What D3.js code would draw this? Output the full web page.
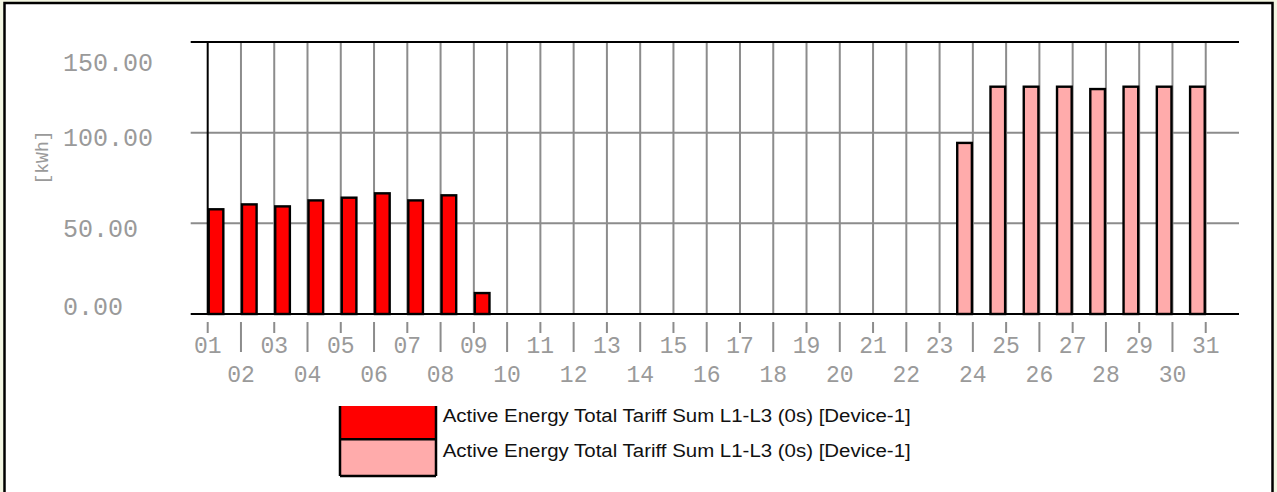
<!DOCTYPE html>
<html>
<head>
<meta charset="utf-8">
<script src="https://cdn.jsdelivr.net/npm/d3@7"></script>
<style>
  body { margin: 0; background: #f3f6e2; }
  svg { display: block; }
</style>
</head>
<body>
<div id="chart"></div>
<script>
// days of the month and the two series (kWh), null = no bar
const days = d3.range(1, 32);
const currentMonth = [58.3, 61.0, 59.9, 63.2, 64.7, 67.1, 63.2, 66.0, 12.1,
  null, null, null, null, null, null, null, null, null, null, null,
  null, null, null, null, null, null, null, null, null, null, null];
const previousMonth = [null, null, null, null, null, null, null, null, null, null,
  null, null, null, null, null, null, null, null, null, null, null, null, null,
  94.9, 125.9, 125.9, 125.9, 124.6, 125.9, 125.9, 125.9];
const yTicks = [0, 50, 100, 150];
const seriesNames = ["Active Energy Total Tariff Sum L1-L3 (0s) [Device-1]",
  "Active Energy Total Tariff Sum L1-L3 (0s) [Device-1]"];
const yTitle = "[kWh]";

const W = 1277, H = 492,
  plotLeft = 207.7, plotRight = 1239, plotTop = 42, plotBottom = 314,
  gridColor = "#8c8c8c",
  labelColor = "#9a9a9a",
  redColor = "#ff0000",
  pinkColor = "#ffabab",
  mono = "'Liberation Mono', 'Courier New', monospace";

const svg = d3.select("#chart").append("svg")
  .attr("width", W).attr("height", H);

// white panel with black frame
svg.append("rect")
  .attr("x", 4.5).attr("y", 3).attr("width", 1268).attr("height", 520)
  .attr("fill", "#fff").attr("stroke", "#000").attr("stroke-width", 2.5);

const x = d3.scaleLinear().domain([1, 32]).range([plotLeft, plotRight]);
const y = d3.scaleLinear().domain([0, 150]).range([plotBottom, plotTop]);
const step = x(2) - x(1);
const barW = step / 2;

// vertical grid
svg.append("g").selectAll("line")
  .data(days.slice(1))
  .enter().append("line")
  .attr("x1", d => x(d)).attr("x2", d => x(d))
  .attr("y1", plotTop).attr("y2", plotBottom)
  .attr("stroke", gridColor).attr("stroke-width", 2);

// horizontal grid (ticks stick out to the left)
svg.append("g").selectAll("line")
  .data(yTicks)
  .enter().append("line")
  .attr("x1", plotLeft - 17).attr("x2", plotRight)
  .attr("y1", d => y(d)).attr("y2", d => y(d))
  .attr("stroke", d => (d === 150 || d === 0) ? "#000" : gridColor)
  .attr("stroke-width", 2);

// left axis
svg.append("line")
  .attr("x1", plotLeft).attr("x2", plotLeft).attr("y1", plotTop).attr("y2", plotBottom)
  .attr("stroke", "#000").attr("stroke-width", 2);

// y labels, kept inside the label band
svg.append("g").selectAll("text")
  .data(yTicks)
  .enter().append("text")
  .attr("x", 63)
  .attr("y", d => Math.max(62, Math.min(306, y(d) + 5)))
  .attr("dy", "0.35em")
  .attr("font-family", mono).attr("font-size", 25)
  .attr("fill", labelColor)
  .text(d => d3.format(".2f")(d));

svg.append("text")
  .attr("transform", "translate(41.5,157.5) rotate(-90)")
  .attr("text-anchor", "middle").attr("dy", "0.35em")
  .attr("font-family", mono).attr("font-size", 18)
  .attr("fill", labelColor)
  .text(yTitle);

// x ticks + staggered labels
const xt = svg.append("g");
xt.selectAll("line")
  .data(days)
  .enter().append("line")
  .attr("x1", d => x(d)).attr("x2", d => x(d))
  .attr("y1", 322).attr("y2", d => d % 2 ? 333 : 352)
  .attr("stroke", gridColor).attr("stroke-width", 2);
xt.selectAll("text")
  .data(days)
  .enter().append("text")
  .attr("x", d => x(d))
  .attr("y", d => d % 2 ? 352.7 : 381.7)
  .attr("text-anchor", "middle")
  .attr("font-family", mono).attr("font-size", 23)
  .attr("fill", labelColor)
  .text(d => d3.format("02d")(d));

// bars: previous month left of the tick, current month right of it
function drawBars(values, color, offset) {
  svg.append("g").selectAll("rect")
    .data(days.filter((d, i) => values[i] != null))
    .enter().append("rect")
    .attr("x", d => x(d) + offset + 1)
    .attr("y", d => y(values[d - 1]) + 1)
    .attr("width", barW - 2)
    .attr("height", d => plotBottom - y(values[d - 1]) - 1)
    .attr("fill", color)
    .attr("stroke", "#000").attr("stroke-width", 2.4);
}
drawBars(previousMonth, pinkColor, -barW);
drawBars(currentMonth, redColor, 0);

// legend
const lg = svg.append("g");
const lx0 = 340, lx1 = 436, ly = [406, 439.3, 476];
[redColor, pinkColor].forEach((c, i) => {
  lg.append("rect")
    .attr("x", lx0).attr("y", ly[i])
    .attr("width", lx1 - lx0).attr("height", ly[i + 1] - ly[i])
    .attr("fill", c);
  lg.append("text")
    .attr("x", 442.7).attr("y", [421.7, 456.7][i])
    .attr("font-family", "'Liberation Sans', Arial, sans-serif")
    .attr("font-size", 18).attr("fill", "#111")
    .attr("textLength", 468).attr("lengthAdjust", "spacingAndGlyphs")
    .text(seriesNames[i]);
});
lg.append("path")
  .attr("d", `M${lx0},${ly[0]}V${ly[2]}M${lx1},${ly[0]}V${ly[2]}M${lx0},${ly[1]}H${lx1}M${lx0},${ly[2]}H${lx1}`)
  .attr("stroke", "#000").attr("stroke-width", 2.5).attr("fill", "none");
</script>
</body>
</html>
